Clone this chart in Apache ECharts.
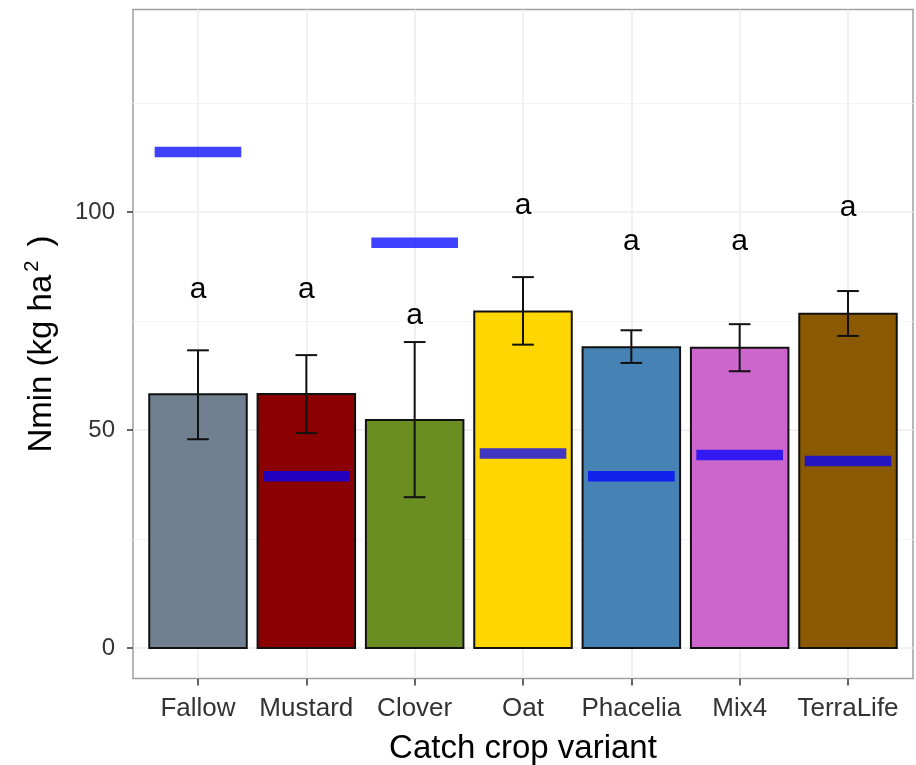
<!DOCTYPE html>
<html>
<head>
<meta charset="utf-8">
<script src="https://cdn.jsdelivr.net/npm/echarts@6/dist/echarts.min.js"></script>
<style>
html,body{margin:0;padding:0;background:#fff;}
#chart{width:916px;height:765px;}
</style>
</head>
<body>
<div id="chart"></div>
<script>
const categories = ['Fallow', 'Mustard', 'Clover', 'Oat', 'Phacelia', 'Mix4', 'TerraLife'];
const barColors = ['#708090', '#8B0000', '#6B8E23', '#FFD700', '#4682B4', '#CC66CC', '#8B5A00'];
const meanValues = [58.2, 58.3, 52.3, 77.2, 69.0, 68.9, 76.7];
const errLower = [47.9, 49.3, 34.6, 69.6, 65.4, 63.5, 71.6];
const errUpper = [68.3, 67.2, 70.2, 85.1, 72.9, 74.3, 81.9];
const blueValues = [113.8, 39.4, 93.0, 44.6, 39.4, 44.3, 42.9];
const letterValues = [82.3, 82.3, 76.3, 101.5, 93.1, 93.1, 101.0];
const letters = ['a', 'a', 'a', 'a', 'a', 'a', 'a'];
const yTicks = [0, 50, 100];
const yMinorTicks = [25, 75, 125];
const xTicks = [0, 1, 2, 3, 4, 5, 6];

const chart = echarts.init(document.getElementById('chart'), null, {renderer: 'canvas'});
const FONT = '"Liberation Sans", Arial, sans-serif';

const barData = meanValues.map((v, i) => [i, v]);
const errData = meanValues.map((v, i) => [i, errLower[i], errUpper[i]]);
const blueData = blueValues.map((v, i) => [i, v]);
const letterData = letterValues.map((v, i) => [i, v]);

const option = {
  animation: false,
  backgroundColor: '#ffffff',
  grid: {left: 133, right: 3, top: 9.5, bottom: 86.5, containLabel: false, outerBoundsMode: 'none',
    show: true, borderColor: '#a0a0a0', borderWidth: 1.5, backgroundColor: '#ffffff'},
  xAxis: [{
    type: 'value', min: -0.6, max: 6.6,
    name: 'Catch crop variant', nameLocation: 'middle', nameGap: 54,
    nameTextStyle: {fontFamily: FONT, fontSize: 33, color: '#000'},
    axisLine: {show: false, onZero: false},
    axisTick: {show: true, length: 7, customValues: xTicks, lineStyle: {color: '#333', width: 1.5}},
    axisLabel: {customValues: xTicks, fontFamily: FONT, fontSize: 26, color: '#333', margin: 17,
      formatter: v => categories[Math.round(v)] || ''},
    splitLine: {show: true, lineStyle: {color: '#ececec', width: 1.5}}
  }],
  yAxis: [{
    type: 'value', min: -7, max: 146.5,
    name: '{t|Nmin (kg ha}{s|2}{t| )}', nameLocation: 'middle', nameGap: 71, nameRotate: 90,
    nameTextStyle: {fontFamily: FONT, fontSize: 33, color: '#000',
      rich: {t: {fontFamily: FONT, fontSize: 33, color: '#000'},
             s: {fontFamily: FONT, fontSize: 20, color: '#000', verticalAlign: 'top', padding: [0, 5, 20, 3]}}},
    axisLine: {show: false, onZero: false},
    axisTick: {show: true, length: 6, customValues: yTicks, lineStyle: {color: '#333', width: 1.5}},
    axisLabel: {customValues: yTicks, fontFamily: FONT, fontSize: 24, color: '#333', margin: 18},
    splitLine: {show: true, lineStyle: {color: '#ececec', width: 1.5}}
  }, {
    type: 'value', min: -7, max: 146.5, position: 'left',
    axisLine: {show: false, onZero: false},
    axisTick: {show: false, customValues: yMinorTicks},
    axisLabel: {show: false, customValues: yMinorTicks},
    splitLine: {show: true, lineStyle: {color: '#f4f4f4', width: 1}}
  }],
  series: [
    {
      type: 'custom', name: 'mean', data: barData, z: 2,
      renderItem: (params, api) => {
        const i = api.value(0), v = api.value(1);
        const p1 = api.coord([i - 0.45, v]);
        const p2 = api.coord([i + 0.45, 0]);
        return {type: 'rect', shape: {x: p1[0], y: p1[1], width: p2[0] - p1[0], height: p2[1] - p1[1]},
          style: {fill: barColors[i], stroke: '#111', lineWidth: 2}};
      }
    },
    {
      type: 'custom', name: 'blue', data: blueData, z: 3,
      renderItem: (params, api) => {
        const i = api.value(0), v = api.value(1);
        const p1 = api.coord([i - 0.4, v]);
        const p2 = api.coord([i + 0.4, v]);
        return {type: 'line', shape: {x1: p1[0], y1: p1[1], x2: p2[0], y2: p2[1]},
          style: {stroke: 'rgba(0,0,255,0.75)', lineWidth: 10.5, lineCap: 'butt'}};
      }
    },
    {
      type: 'custom', name: 'err', data: errData, z: 4,
      renderItem: (params, api) => {
        const i = api.value(0), lo = api.value(1), hi = api.value(2);
        const a = api.coord([i, lo]), b = api.coord([i, hi]);
        const l1 = api.coord([i - 0.1, lo]), r1 = api.coord([i + 0.1, lo]);
        const l2 = api.coord([i - 0.1, hi]), r2 = api.coord([i + 0.1, hi]);
        const st = {stroke: '#111', lineWidth: 2};
        return {type: 'group', children: [
          {type: 'line', shape: {x1: a[0], y1: a[1], x2: b[0], y2: b[1]}, style: st},
          {type: 'line', shape: {x1: l1[0], y1: l1[1], x2: r1[0], y2: r1[1]}, style: st},
          {type: 'line', shape: {x1: l2[0], y1: l2[1], x2: r2[0], y2: r2[1]}, style: st}
        ]};
      }
    },
    {
      type: 'custom', name: 'letters', data: letterData, z: 5,
      renderItem: (params, api) => {
        const i = api.value(0), v = api.value(1);
        const p = api.coord([i, v]);
        return {type: 'text', x: p[0], y: p[1],
          style: {text: letters[i], fontFamily: FONT, fontSize: 30, fill: '#000', align: 'center', verticalAlign: 'middle'}};
      }
    }
  ]
};
chart.setOption(option);
</script>
</body>
</html>
